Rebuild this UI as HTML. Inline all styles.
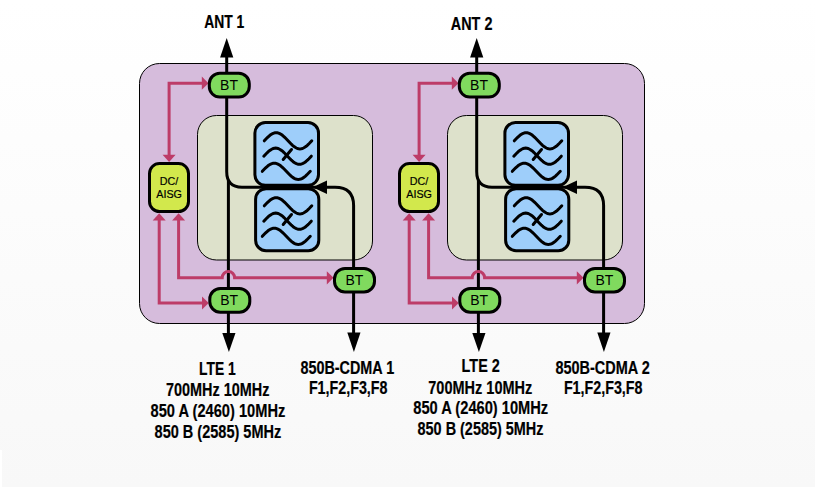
<!DOCTYPE html>
<html><head><meta charset="utf-8">
<style>
html,body{margin:0;padding:0;}
body{width:815px;height:487px;overflow:hidden;background:linear-gradient(#ffffff 0%,#f8f8f8 100%);}
svg{position:absolute;left:0;top:0;}
text{font-family:"Liberation Sans",sans-serif;}
.lbl{font-weight:bold;font-size:18.5px;fill:#000;stroke:#000;stroke-width:0.2px;}
.bt{font-size:14px;fill:#000;}
.dc{font-size:11.5px;fill:#000;stroke:#000;stroke-width:0.2px;}
</style></head>
<body>
<div style="position:absolute;left:0;top:450px;width:2px;height:37px;background:#fff"></div>
<svg width="815" height="487" viewBox="0 0 815 487">
<defs><g id="panel">
    <rect x="197.5" y="115.5" width="175" height="144.5" rx="19" fill="#dde1cb" stroke="#000" stroke-width="1"/>
    <rect x="254.9" y="122.6" width="63.6" height="62.7" rx="10.5" fill="#9ecefa" stroke="#000" stroke-width="3"/>
    <rect x="255.6" y="188.7" width="63.2" height="62" rx="10.5" fill="#9ecefa" stroke="#000" stroke-width="3"/>
    <g fill="none" stroke="#000" stroke-width="3" stroke-linecap="round">
    <path d="M264.30 140.80 L265.49 139.53 L266.68 138.30 L267.86 137.12 L269.05 136.04 L270.24 135.07 L271.43 134.25 L272.61 133.58 L273.80 133.10 L274.99 132.80 L276.18 132.70 L277.36 132.80 L278.55 133.10 L279.74 133.58 L280.93 134.25 L282.11 135.07 L283.30 136.04 L284.49 137.12 L285.68 138.30 L286.86 139.53 L288.05 140.80 L289.24 142.07 L290.43 143.30 L291.61 144.48 L292.80 145.56 L293.99 146.53 L295.18 147.35 L296.36 148.02 L297.55 148.50 L298.74 148.80 L299.93 148.90 L301.11 148.80 L302.30 148.50 L303.49 148.02 L304.68 147.35 L305.86 146.53 L307.05 145.56 L308.24 144.48 L309.43 143.30 L310.61 142.07 L311.80 140.80"/><path d="M263.80 156.20 L264.99 154.93 L266.18 153.70 L267.36 152.52 L268.55 151.44 L269.74 150.47 L270.93 149.65 L272.11 148.98 L273.30 148.50 L274.49 148.20 L275.68 148.10 L276.86 148.20 L278.05 148.50 L279.24 148.98 L280.43 149.65 L281.61 150.47 L282.80 151.44 L283.99 152.52 L285.18 153.70 L286.36 154.93 L287.55 156.20 L288.74 157.47 L289.93 158.70 L291.11 159.88 L292.30 160.96 L293.49 161.93 L294.68 162.75 L295.86 163.42 L297.05 163.90 L298.24 164.20 L299.43 164.30 L300.61 164.20 L301.80 163.90 L302.99 163.42 L304.18 162.75 L305.36 161.93 L306.55 160.96 L307.74 159.88 L308.93 158.70 L310.11 157.47 L311.30 156.20"/><path d="M262.30 171.30 L263.50 170.03 L264.70 168.80 L265.90 167.62 L267.10 166.54 L268.30 165.57 L269.50 164.75 L270.70 164.08 L271.90 163.60 L273.10 163.30 L274.30 163.20 L275.50 163.30 L276.70 163.60 L277.90 164.08 L279.10 164.75 L280.30 165.57 L281.50 166.54 L282.70 167.62 L283.90 168.80 L285.10 170.03 L286.30 171.30 L287.50 172.57 L288.70 173.80 L289.90 174.98 L291.10 176.06 L292.30 177.03 L293.50 177.85 L294.70 178.52 L295.90 179.00 L297.10 179.30 L298.30 179.40 L299.50 179.30 L300.70 179.00 L301.90 178.52 L303.10 177.85 L304.30 177.03 L305.50 176.06 L306.70 174.98 L307.90 173.80 L309.10 172.57 L310.30 171.30"/><path d="M283.2 159.5 L291.5 149.5"/>
    <path d="M264.30 205.80 L265.49 204.53 L266.68 203.30 L267.86 202.12 L269.05 201.04 L270.24 200.07 L271.43 199.25 L272.61 198.58 L273.80 198.10 L274.99 197.80 L276.18 197.70 L277.36 197.80 L278.55 198.10 L279.74 198.58 L280.93 199.25 L282.11 200.07 L283.30 201.04 L284.49 202.12 L285.68 203.30 L286.86 204.53 L288.05 205.80 L289.24 207.07 L290.43 208.30 L291.61 209.48 L292.80 210.56 L293.99 211.53 L295.18 212.35 L296.36 213.02 L297.55 213.50 L298.74 213.80 L299.93 213.90 L301.11 213.80 L302.30 213.50 L303.49 213.02 L304.68 212.35 L305.86 211.53 L307.05 210.56 L308.24 209.48 L309.43 208.30 L310.61 207.07 L311.80 205.80"/><path d="M263.80 221.20 L264.99 219.93 L266.18 218.70 L267.36 217.52 L268.55 216.44 L269.74 215.47 L270.93 214.65 L272.11 213.98 L273.30 213.50 L274.49 213.20 L275.68 213.10 L276.86 213.20 L278.05 213.50 L279.24 213.98 L280.43 214.65 L281.61 215.47 L282.80 216.44 L283.99 217.52 L285.18 218.70 L286.36 219.93 L287.55 221.20 L288.74 222.47 L289.93 223.70 L291.11 224.88 L292.30 225.96 L293.49 226.93 L294.68 227.75 L295.86 228.42 L297.05 228.90 L298.24 229.20 L299.43 229.30 L300.61 229.20 L301.80 228.90 L302.99 228.42 L304.18 227.75 L305.36 226.93 L306.55 225.96 L307.74 224.88 L308.93 223.70 L310.11 222.47 L311.30 221.20"/><path d="M262.30 236.30 L263.50 235.03 L264.70 233.80 L265.90 232.62 L267.10 231.54 L268.30 230.57 L269.50 229.75 L270.70 229.08 L271.90 228.60 L273.10 228.30 L274.30 228.20 L275.50 228.30 L276.70 228.60 L277.90 229.08 L279.10 229.75 L280.30 230.57 L281.50 231.54 L282.70 232.62 L283.90 233.80 L285.10 235.03 L286.30 236.30 L287.50 237.57 L288.70 238.80 L289.90 239.98 L291.10 241.06 L292.30 242.03 L293.50 242.85 L294.70 243.52 L295.90 244.00 L297.10 244.30 L298.30 244.40 L299.50 244.30 L300.70 244.00 L301.90 243.52 L303.10 242.85 L304.30 242.03 L305.50 241.06 L306.70 239.98 L307.90 238.80 L309.10 237.57 L310.30 236.30"/><path d="M283.2 224.5 L291.5 214.5"/>
    </g>
    <path d="M226.7 52 V171.5 Q226.7 187.2 242 187.2 H316" fill="none" stroke="#000" stroke-width="3"/>
    <path d="M228.4 180 V335" fill="none" stroke="#000" stroke-width="3"/>
    <path d="M322 187.2 H335 Q353.6 187.2 353.6 205.5 V335" fill="none" stroke="#000" stroke-width="3"/>
    <polygon points="226.7,38 220.1,57.5 233.3,57.5" fill="#000"/>
    <polygon points="228.9,352 222.3,333 235.5,333" fill="#000"/>
    <polygon points="353.9,352 347.3,332.5 360.5,332.5" fill="#000"/>
    <polygon points="312.5,187.3 327,180.6 327,194" fill="#000"/>
    <g fill="none" stroke="#bd3c68" stroke-width="3">
      <path d="M169.1 156 V83.2 H203"/>
      <path d="M159.2 219 V303 H203"/>
      <path d="M178.6 219 V277.8 H222.2 A6.2 6.2 0 0 1 234.6 277.8 H328"/>
    </g>
    <g fill="#bd3c68">
      <polygon points="208.5,83.2 201.8,76.6 201.8,89.8"/>
      <polygon points="169.1,162 162.6,154.8 175.6,154.8"/>
      <polygon points="159.2,213.2 152.7,220.4 165.7,220.4"/>
      <polygon points="178.6,213.2 172.1,220.4 185.1,220.4"/>
      <polygon points="208.7,303 202,296.4 202,309.6"/>
      <polygon points="333.5,277.8 326.8,271.2 326.8,284.4"/>
    </g>
    <rect x="209.3" y="73.3" width="40" height="23.8" rx="10.5" fill="#80da5e" stroke="#000" stroke-width="3"/>
    <rect x="209.8" y="288.6" width="40" height="23.6" rx="10.5" fill="#80da5e" stroke="#000" stroke-width="3"/>
    <rect x="334.5" y="268.4" width="40" height="23.6" rx="10.5" fill="#80da5e" stroke="#000" stroke-width="3"/>
    <text class="bt" x="229" y="90" text-anchor="middle">BT</text>
    <text class="bt" x="229.2" y="305" text-anchor="middle">BT</text>
    <text class="bt" x="354.4" y="284.8" text-anchor="middle">BT</text>
    <rect x="149.5" y="163.6" width="39" height="48" rx="10" fill="#d2e84c" stroke="#000" stroke-width="3"/>
    <text class="dc" x="169" y="184.9" text-anchor="middle" textLength="18.5" lengthAdjust="spacingAndGlyphs">DC/</text>
    <text class="dc" x="169.1" y="197.9" text-anchor="middle" textLength="25.7" lengthAdjust="spacingAndGlyphs">AISG</text>
</g></defs>
<rect x="139.5" y="63.5" width="505" height="260" rx="20" fill="#d6bcdc" stroke="#000" stroke-width="1"/>
<use href="#panel"/>
<use href="#panel" transform="translate(250,0)"/>
<text class="lbl" x="224.25" y="28.1" text-anchor="middle" textLength="40.1" lengthAdjust="spacingAndGlyphs">ANT 1</text><text class="lbl" x="471.6" y="30.2" text-anchor="middle" textLength="41.6" lengthAdjust="spacingAndGlyphs">ANT 2</text><text class="lbl" x="217.35" y="374.9" text-anchor="middle" textLength="36.7" lengthAdjust="spacingAndGlyphs">LTE 1</text><text class="lbl" x="217.7" y="395.8" text-anchor="middle" textLength="103.5" lengthAdjust="spacingAndGlyphs">700MHz 10MHz</text><text class="lbl" x="217.9" y="416.7" text-anchor="middle" textLength="134.8" lengthAdjust="spacingAndGlyphs">850 A (2460) 10MHz</text><text class="lbl" x="217.9" y="437.7" text-anchor="middle" textLength="126.6" lengthAdjust="spacingAndGlyphs">850 B (2585) 5MHz</text><text class="lbl" x="480.75" y="371.8" text-anchor="middle" textLength="38.3" lengthAdjust="spacingAndGlyphs">LTE 2</text><text class="lbl" x="480.3" y="393.6" text-anchor="middle" textLength="104" lengthAdjust="spacingAndGlyphs">700MHz 10MHz</text><text class="lbl" x="480.75" y="414.3" text-anchor="middle" textLength="134.9" lengthAdjust="spacingAndGlyphs">850 A (2460) 10MHz</text><text class="lbl" x="480.5" y="435.1" text-anchor="middle" textLength="125.9" lengthAdjust="spacingAndGlyphs">850 B (2585) 5MHz</text><text class="lbl" x="347.3" y="373.7" text-anchor="middle" textLength="93.8" lengthAdjust="spacingAndGlyphs">850B-CDMA 1</text><text class="lbl" x="348.2" y="394.3" text-anchor="middle" textLength="78.6" lengthAdjust="spacingAndGlyphs">F1,F2,F3,F8</text><text class="lbl" x="602.6" y="373.7" text-anchor="middle" textLength="94.4" lengthAdjust="spacingAndGlyphs">850B-CDMA 2</text><text class="lbl" x="603.2" y="394.3" text-anchor="middle" textLength="78.6" lengthAdjust="spacingAndGlyphs">F1,F2,F3,F8</text>
</svg>
</body></html>
